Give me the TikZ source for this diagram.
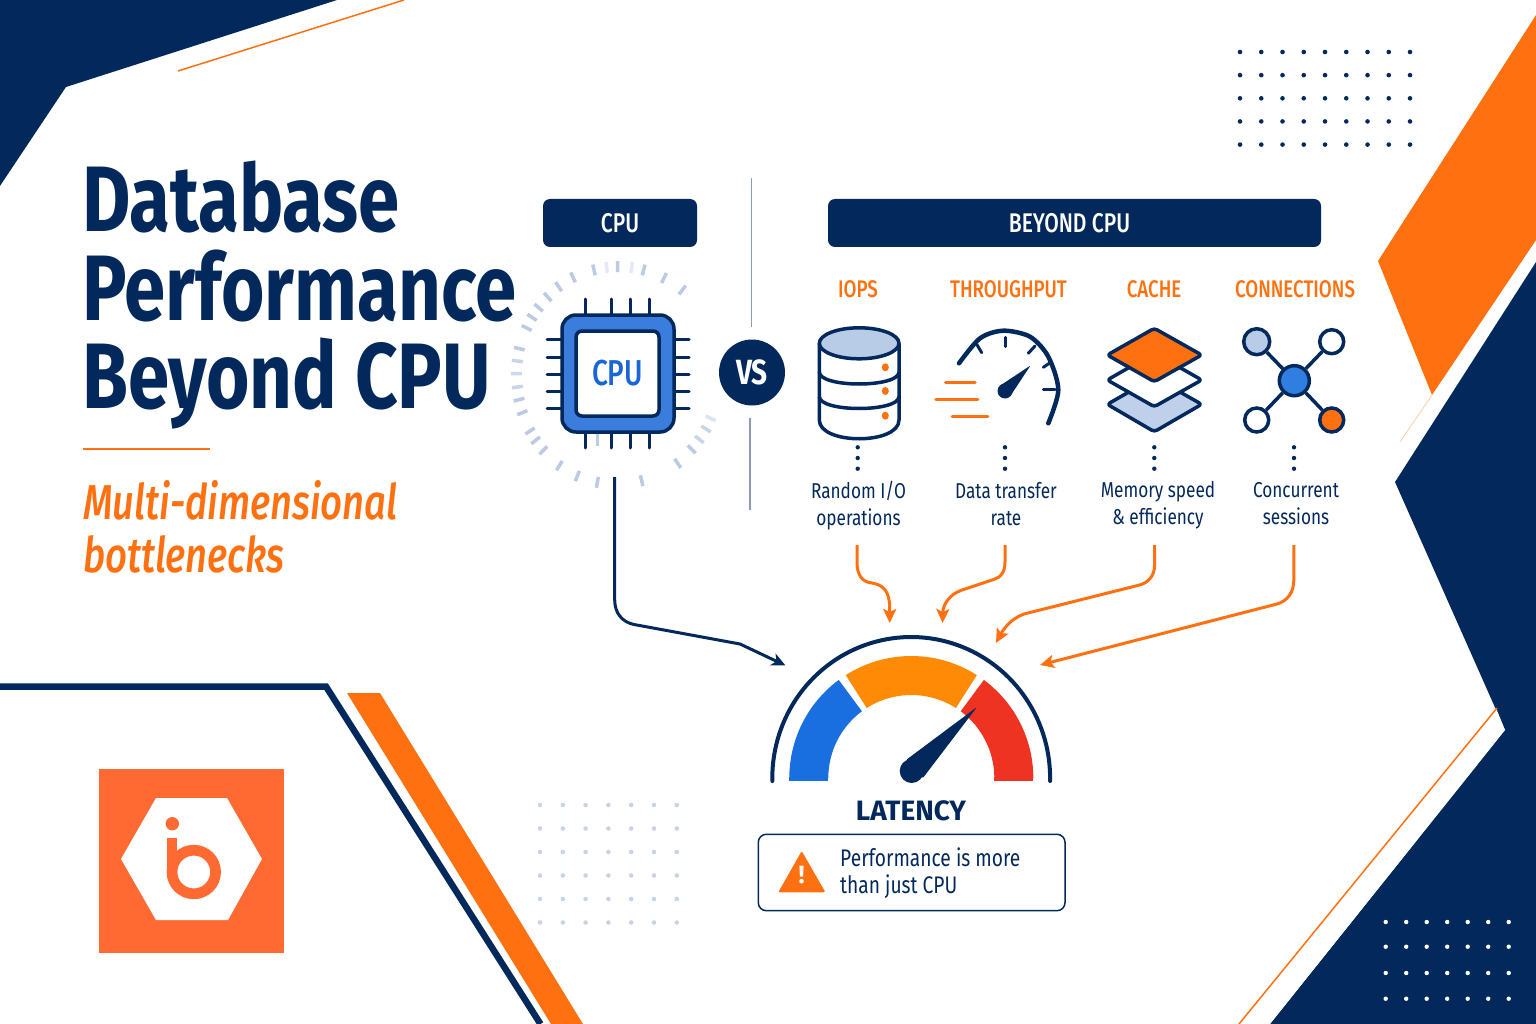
\documentclass[tikz,border=0pt]{standalone}
\usepackage{fontspec}
\setmainfont{Fira Sans}
\newfontfamily\cond[FakeStretch=0.8]{Fira Sans}
\newfontfamily\condm[FakeStretch=0.78]{Fira Sans Medium}
\usetikzlibrary{arrows.meta,calc}
\definecolor{navy}{HTML}{03295C}
\definecolor{orng}{HTML}{FF7110}
\definecolor{cpublue}{HTML}{3B7DDD}
\definecolor{textblue}{HTML}{1B66D6}
\definecolor{paleblue}{HTML}{B8CCE8}
\definecolor{tickc}{HTML}{BCCAE4}
\definecolor{logoor}{HTML}{FF6A33}
\definecolor{midblue}{HTML}{2F7FE0}
\definecolor{gblue}{HTML}{1A6FE0}
\definecolor{gorange}{HTML}{FF8A05}
\definecolor{gred}{HTML}{EE3322}
\definecolor{faintdot}{HTML}{C9D3E8}
\definecolor{divider}{HTML}{8A9BBE}
\tikzset{
  titletext/.style={inner sep=0pt,anchor=base west,text=navy,font=\cond\bfseries\fontsize{93}{93}\selectfont},
  subtext/.style={inner sep=0pt,anchor=base west,text=orng,font=\condm\itshape\fontsize{49}{49}\selectfont},
  headerbox/.style={fill=navy,rounded corners=7pt,inner sep=0pt,text=white,font=\condm\fontsize{27}{27}\selectfont},
  metric/.style={inner sep=0pt,anchor=base,text=orng,font=\condm\fontsize{24}{24}\selectfont},
  desc/.style={inner sep=0pt,anchor=base,text=navy,font=\cond\fontsize{21.5}{21.5}\selectfont},
  boxtext/.style={inner sep=0pt,anchor=base west,text=navy,font=\cond\fontsize{24}{24}\selectfont},
  iconline/.style={draw=navy,line width=3.5pt,line join=round},
  pin/.style={draw=navy,line width=3pt,line cap=round},
  netnode/.style={circle,draw=navy,line width=3.5pt,fill=white,inner sep=0pt,minimum size=24pt},
  orangelink/.style={draw=orng,line width=3pt,-{Stealth[length=14pt,width=13pt,inset=3pt]}},
  navylink/.style={draw=navy,line width=3pt,-{Stealth[length=14pt,width=13pt,inset=4pt]}},
}
\newcommand{\bandseg}[3]{\fill[#3] plot[domain=#1:#2,samples=40] ({911.3+122*cos(\x)},{778+122*sin(\x)}) -- plot[domain=#2:#1,samples=40] ({911.3+83*cos(\x)},{778+83*sin(\x)}) -- cycle;}
\begin{document}
\begin{tikzpicture}[x=1pt,y=-1pt]
\useasboundingbox (0,0) rectangle (1536,1024);
\fill[white] (0,0) rectangle (1536,1024);
% corner shapes
\fill[navy] (0,0) -- (337,0) -- (66,87) -- (0,186) -- cycle;
\draw[orng,line width=1.5pt] (178,71) -- (404,0);
\fill[orng] (1536,15) -- (1378,261) -- (1432,395) -- (1536,240) -- cycle;
\draw[orng!35,line width=0.8pt] (1432,395) -- (1400,442);
\fill[navy] (1536,262) -- (1395,482) -- (1505,730) -- (1270,1024) -- (1536,1024) -- cycle;
\fill[white] (1496,708) -- (1505,730) -- (1270,1024) -- (1239,1024) -- cycle;
\draw[orng,line width=1.5pt] (1497,708) -- (1239,1024);
\draw[navy,line width=6.5pt,line join=miter] (0,686.5) -- (326,686.5) -- (540.5,1024);
\fill[orng] (347,693) -- (380,693) -- (583,1024) -- (551,1024) -- cycle;
% dot grids
\foreach \cc in {0,...,8}\foreach \rr in {0,...,4}\fill[navy] ({1240+\cc*21.25},{52+\rr*23.15}) circle (2.3);
\foreach \cc in {0,...,6}\foreach \rr in {922,946.7,973,998.7}\fill[white] ({1385.7+\cc*20.5},\rr) circle (2.2);
\foreach \cc in {0,...,6}\foreach \rr in {0,...,5}\fill[faintdot] ({540+\cc*22.8},{805+\rr*23.5}) circle (2.3);
% logo
\fill[logoor] (99,769) rectangle (284,953);
\fill[white] (156,798) -- (227,798) -- (262,859) -- (228,920) -- (156,920) -- (121,859) -- cycle;
\fill[logoor] (172.3,823.7) circle (6.7);
\draw[logoor,line width=10.7pt] (172,838) -- (172,872);
\draw[logoor,line width=10.7pt] (193.8,872) circle (21.8);
% title
\node[titletext] (t1) at (82,232) {Database};
\node[titletext] (t2) at (82,320) {Performance};
\node[titletext] (t3) at (82,408) {Beyond CPU};
\draw[orng,line width=2pt] (83,449) -- (210,449);
\node[subtext] (s1) at (83,519) {Multi-dimensional};
\node[subtext] (s2) at (83,572) {bottlenecks};
% headers
\node[headerbox,minimum width=154pt,minimum height=48pt] (hcpu) at (620,223) {\raisebox{0pt}{CPU}};
\node[headerbox,minimum width=493pt,minimum height=48pt] (hbeyond) at (1074.5,223) {\hspace*{-10pt}BEYOND CPU};
% divider and VS
\draw[divider,line width=1.5pt] (751.5,178) -- (751.5,327);
\draw[divider,line width=1.5pt] (750,418) -- (750,510);
\node[circle,fill=navy,inner sep=0pt,minimum size=66pt,text=white,font=\cond\bfseries\fontsize{35}{35}\selectfont] (vs) at (752,372.5) {VS};
% CPU ticks
\foreach \tx/\ty/\tq in {282/60/1,320/52/.4,353/50/1,395/52/.4,431/60/1,492/84/1,547/120/1,632/505/.5,618/537/.8,598/568/.8,575/598/1,533/640/1,425/692/1,292/697/1,232/678/1,178/647/1,130/601/1,107/571/1,90/543/1,67/488/1,57/449/1,52/411/.8,49/371/.7,52/333/.8,58/296/1,80/234/1,96/202/1,116/173/1,143/141/1,176/110/1,219/82/1}{
  \pgfmathsetmacro\ang{atan2(\ty-372,\tx-352)}
  \draw[tickc,opacity=\tq,line width=3.5pt] ({\tx/3+500-5.5*cos(\ang)},{\ty/3+250-5.5*sin(\ang)}) -- ({\tx/3+500+5.5*cos(\ang)},{\ty/3+250+5.5*sin(\ang)});
}
% CPU chip
\foreach \px in {585.7,611.7,630.7,649.3}{\draw[pin] (\px,299) -- (\px,316); \draw[pin] (\px,431) -- (\px,448);}
\foreach \py in {339.3,357,374.3,391.3,408.7}{\draw[pin] (547,\py) -- (563,\py); \draw[pin] (673,\py) -- (689,\py);}
\draw[tickc,line width=3pt] (597,432) -- (597,446);
\draw[navy,fill=cpublue,line width=3.5pt,rounded corners=14pt] (562,315) rectangle (674,432);
\node[draw=navy,fill=white,line width=3.5pt,rounded corners=6pt,minimum width=83pt,minimum height=85pt,inner sep=0pt,text=textblue,font=\condm\fontsize{36}{36}\selectfont] (chip) at (617.5,373.5) {CPU};
% metric labels
\node[metric] (m1) at (858,298) {IOPS};
\node[metric] (m2) at (1008.5,298) {THROUGHPUT};
\node[metric] (m3) at (1154,298) {CACHE};
\node[metric] (m4) at (1295,298) {CONNECTIONS};
% database icon
\fill[white] (819.3,343.3) -- (819.3,420) -- (899,420) -- (899,343.3) -- cycle;
\draw[iconline,fill=paleblue] (859.15,343.3) ellipse [x radius=39.85,y radius=15.5];
\draw[iconline] (819.3,343.3) -- (819.3,420) .. controls (819.3,445) and (899,445) .. (899,420) -- (899,343.3);
\draw[iconline] (819.3,372) .. controls (819.3,388) and (899,388) .. (899,372);
\draw[iconline] (819.3,396.5) .. controls (819.3,412.5) and (899,412.5) .. (899,396.5);
\foreach \py in {367.3,391,415.7}\fill[orng] (885.3,\py) ellipse [x radius=3.5,y radius=4];
% speedometer icon
\draw[draw=navy,line width=4.5pt,line cap=round] plot[smooth] coordinates {(959,363.3)(980,338.3)(1003.3,330.7)(1030,336.7)(1048.3,356.7)(1058.3,390)(1048.3,423.3)};
\draw[navy,line width=3pt,line cap=round] (976.7,344.3) -- (981.7,352.7);
\draw[navy,line width=3pt,line cap=round] (1005,337.3) -- (1005,346.7);
\draw[navy,line width=3pt,line cap=round] (1035,346) -- (1028.3,353.3);
\draw[navy,line width=3pt,line cap=round] (1049.3,363.3) -- (1043.3,367.3);
\draw[navy,line width=3pt,line cap=round] (1055,389.3) -- (1043.3,389.3);
\fill[navy] (1005,391) circle (7.5);
\fill[navy,rounded corners=1pt] (1030.5,365.5) -- (999.5,386) -- (1010,396.5) -- cycle;
\draw[orng,line width=3.5pt,line cap=round] (945.7,382.3) -- (975,382.3);
\draw[orng,line width=3.5pt,line cap=round] (936,399.3) -- (977.7,399.3);
\draw[orng,line width=3.5pt,line cap=round] (952.3,416.7) -- (987.7,416.7);
% cache icon
\draw[iconline,fill=paleblue!90,rounded corners=3pt] (1107.3,404.3) -- (1154.3,377.5) -- (1201.7,404.3) -- (1154.3,431.7) -- cycle;
\draw[iconline,fill=white,rounded corners=3pt] (1107.3,380) -- (1154.3,353) -- (1201.7,380) -- (1154.3,406.7) -- cycle;
\draw[iconline,fill=orng,rounded corners=3pt] (1107.3,355) -- (1154.3,328.3) -- (1201.7,355) -- (1154.3,381.7) -- cycle;
% network icon
\node[netnode,fill=paleblue,minimum size=26pt] (ntl) at (1256.7,341.7) {};
\node[netnode] (ntr) at (1331.7,341.7) {};
\node[netnode] (nbl) at (1256.7,420) {};
\node[netnode,fill=orng] (nbr) at (1331.7,420) {};
\node[netnode,fill=midblue,minimum size=30pt] (nc) at (1294.3,380.7) {};
\foreach \nn in {ntl,ntr,nbl,nbr}\draw[navy,line width=3.5pt] (nc) -- (\nn);
% dotted stems
\foreach \px in {857.7,1005,1154.3,1294}\foreach \py in {447.3,458,468.7}\fill[navy] (\px,\py) circle (2.2);
% descriptions
\node[desc] (d1a) at (858.5,498) {Random I/O};
\node[desc] (d1b) at (858.5,525) {operations};
\node[desc] (d2a) at (1006,498) {Data transfer};
\node[desc] (d2b) at (1006,525) {rate};
\node[desc] (d3a) at (1158,497) {Memory speed};
\node[desc] (d3b) at (1158,524) {\& efficiency};
\node[desc] (d4a) at (1296,497) {Concurrent};
\node[desc] (d4b) at (1296,524) {sessions};
% connector ends
\coordinate (s0) at (614.7,477);
\coordinate (e0) at (785.5,665.5);
\coordinate (s1c) at (857,545);
\coordinate (e1) at (889.7,623);
\coordinate (s2c) at (1005,545);
\coordinate (e2) at (942.5,623);
\coordinate (s3c) at (1154.6,545);
\coordinate (e3) at (996,643);
\coordinate (s4c) at (1293.8,545);
\coordinate (e4) at (1040,665);
\draw[navylink] (s0) -- (614.7,600) .. controls (614.7,613) and (622,622) .. (634,624.5) -- (740,644) -- (e0);
\draw[orangelink] (s1c) -- (857,562) .. controls (857,575) and (862,582) .. (872,583) .. controls (884,585) and (889,592) .. (889.7,606) -- (e1);
\draw[orangelink] (s2c) -- (1005,562) .. controls (1005,572) and (1001,577) .. (995,579) -- (962,590) .. controls (950,594) and (943,604) .. (e2);
\draw[orangelink] (s3c) -- (1154.6,565) .. controls (1154.6,577) and (1147,583) .. (1139.5,585) -- (1024,614) .. controls (1010,619) and (1003,630) .. (e3);
\draw[orangelink] (s4c) -- (1293.8,580) .. controls (1293.8,593) and (1287,601) .. (1277,604) -- (e4);
% latency gauge
\draw[navy,line width=4pt,line cap=round] (772.3,781) -- plot[domain=180:360,samples=80] ({911.2+138.9*cos(\x)},{778+141*sin(\x)}) -- (1050.1,781);
\bandseg{180}{233.5}{gblue}
\bandseg{237.5}{302.5}{gorange}
\bandseg{306.5}{360}{gred}
\fill[gblue] (789.3,777) rectangle (828.3,781);
\fill[gred] (994.3,777) rectangle (1033.3,781);
\fill[navy] (911.7,771) circle (12);
\fill[navy,rounded corners=1.5pt] (977,707) -- (906,760) -- (922.5,778.5) -- cycle;
\node[inner sep=0pt,anchor=base,text=navy,font=\bfseries\fontsize{28}{28}\selectfont] (lat) at (911,820) {LATENCY};
% note box
\draw[navy,fill=white,line width=1.5pt,rounded corners=8pt] (758.3,834.3) rectangle (1065,910.7);
\fill[orng,draw=orng,line width=2pt,line join=round] (801.7,853) -- (780,891.3) -- (823.7,891.3) -- cycle;
\node[inner sep=0pt,text=white,font=\bfseries\fontsize{25}{25}\selectfont] (warn) at (801.7,875) {!};
\node[boxtext] (b1) at (840,866) {Performance is more};
\node[boxtext] (b2) at (840,893) {than just CPU};
\end{tikzpicture}
\end{document}
